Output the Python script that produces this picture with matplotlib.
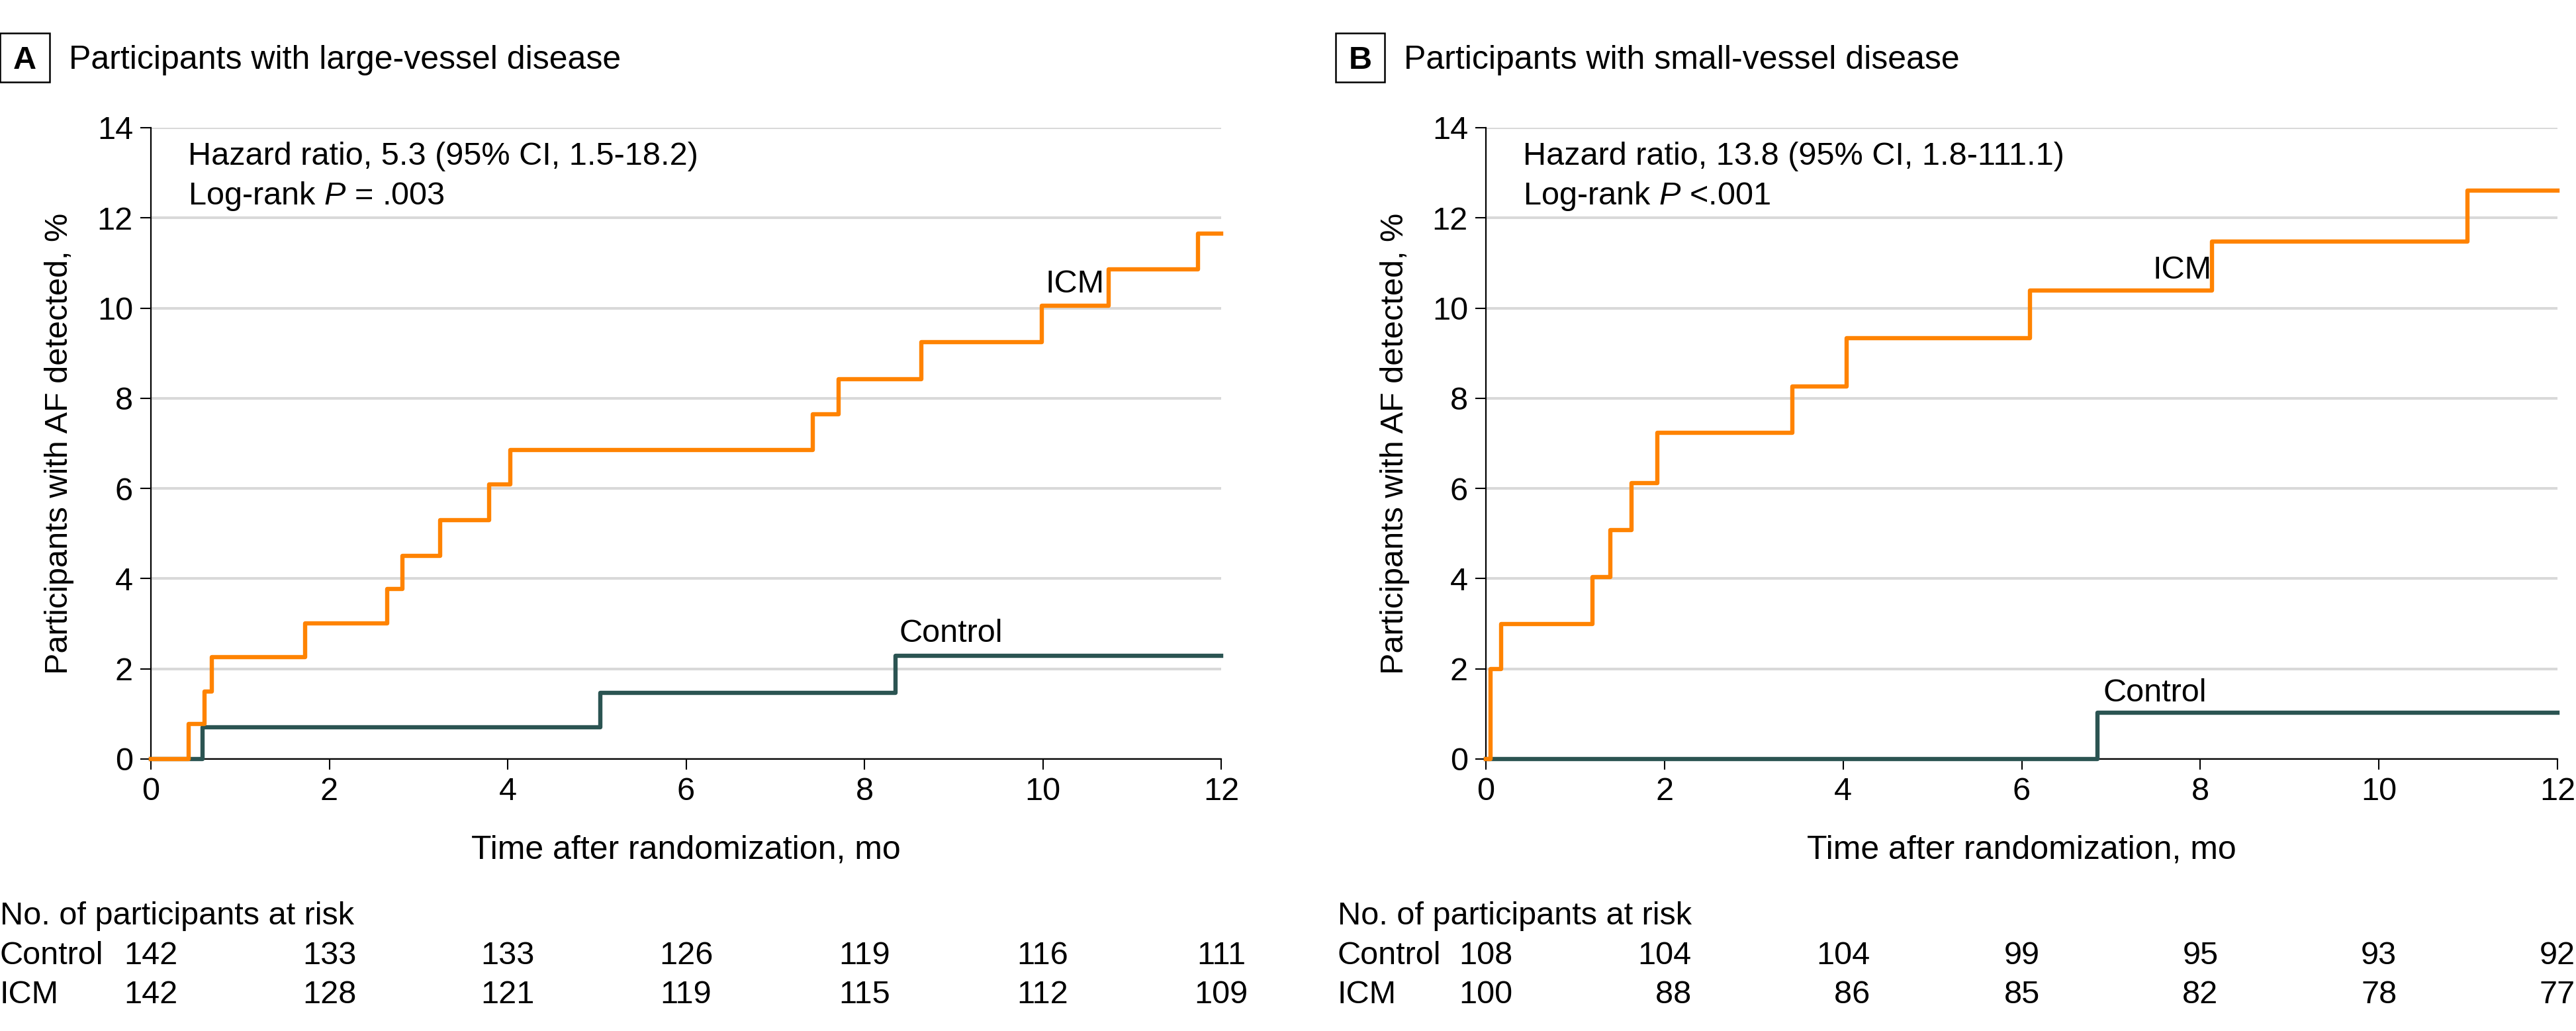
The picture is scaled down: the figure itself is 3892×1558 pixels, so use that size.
import numpy as np
import matplotlib.pyplot as plt
from matplotlib.patches import Rectangle
import matplotlib.transforms as mtransforms

plt.rcParams['font.family'] = ['Liberation Sans', 'DejaVu Sans']
plt.rcParams['mathtext.fontset'] = 'custom'
plt.rcParams['mathtext.rm'] = 'Liberation Sans'
plt.rcParams['mathtext.it'] = 'Liberation Sans:italic'

# time points of the risk table (months)
months = [0, 2, 4, 6, 8, 10, 12]

# panel A: large-vessel disease, cumulative % with AF (step times in months)
a_icm_t = [0, 0.42, 0.60, 0.68, 1.73, 2.65, 2.82, 3.24, 3.79, 4.03, 7.42, 7.71, 8.64, 9.99, 10.74, 11.74]
a_icm_y = [0, 0.78, 1.50, 2.26, 3.01, 3.77, 4.51, 5.30, 6.09, 6.85, 7.65, 8.43, 9.24, 10.05, 10.86, 11.65]
a_ctl_t = [0, 0.58, 5.04, 8.35]
a_ctl_y = [0, 0.70, 1.47, 2.29]
a_risk_ctl = [142, 133, 133, 126, 119, 116, 111]
a_risk_icm = [142, 128, 121, 119, 115, 112, 109]

# panel B: small-vessel disease
b_icm_t = [0, 0.05, 0.17, 1.19, 1.39, 1.63, 1.92, 3.43, 4.04, 6.09, 8.13, 10.99]
b_icm_y = [0, 2.00, 3.00, 4.04, 5.08, 6.12, 7.23, 8.26, 9.34, 10.39, 11.48, 12.61]
b_ctl_t = [0, 6.85]
b_ctl_y = [0, 1.03]
b_risk_ctl = [108, 104, 104, 99, 95, 93, 92]
b_risk_icm = [100, 88, 86, 85, 82, 78, 77]

ORANGE = '#FF8300'
TEAL = '#2B5452'
FS = 35

W, H = 3892, 1558
fig = plt.figure(figsize=(W / 100, H / 100), dpi=100)

def fx(px):
    return px / W

def fy(py):
    return 1 - py / H

top, bot = 193, 1147

panels = [
    dict(left=228, right=1845, letter='A', box=(0, 75), title_x=104,
         title='Participants with large-vessel disease',
         hr='Hazard ratio, 5.3 (95% CI, 1.5-18.2)', p='Log-rank $\\it{P}$ = .003',
         icm=(a_icm_t, a_icm_y), ctl=(a_ctl_t, a_ctl_y),
         icm_lab=(10.03, 10.35), ctl_lab=(8.39, 2.6),
         risk=(a_risk_ctl, a_risk_icm), row_x=0),
    dict(left=2245, right=3864, letter='B', box=(2018, 2092), title_x=2121,
         title='Participants with small-vessel disease',
         hr='Hazard ratio, 13.8 (95% CI, 1.8-111.1)', p='Log-rank $\\it{P}$ <.001',
         icm=(b_icm_t, b_icm_y), ctl=(b_ctl_t, b_ctl_y),
         icm_lab=(7.47, 10.65), ctl_lab=(6.91, 1.27),
         risk=(b_risk_ctl, b_risk_icm), row_x=2021),
]

for pn in panels:
    ax = fig.add_axes([fx(pn['left']), fy(bot), (pn['right'] - pn['left']) / W, (bot - top) / H])
    ax.set_xlim(0, 12)
    ax.set_ylim(0, 14)
    ax.set_xticks(months)
    ax.set_yticks(np.arange(0, 15, 2))
    for s in ['top', 'right']:
        ax.spines[s].set_visible(False)
    for s in ['left', 'bottom']:
        ax.spines[s].set_linewidth(1.6)
    ax.yaxis.grid(True, color='#d9d9d9', lw=2.9)
    ax.set_axisbelow(True)
    ax.tick_params(labelsize=FS, length=11.5, width=1.5, pad=8)

    t, y = pn['ctl']
    ax.step(np.append(t, 12), np.append(y, y[-1]), where='post', color=TEAL, lw=4.6,
            clip_on=False, zorder=3)
    t, y = pn['icm']
    ax.step(np.append(t, 12), np.append(y, y[-1]), where='post', color=ORANGE, lw=4.6,
            clip_on=False, zorder=4)

    ax.text(pn['icm_lab'][0], pn['icm_lab'][1], 'ICM', fontsize=FS, va='baseline')
    ax.text(pn['ctl_lab'][0], pn['ctl_lab'][1], 'Control', fontsize=FS, va='baseline')
    ax.text(0.415, 13.18, pn['hr'], fontsize=FS, va='baseline')
    ax.text(0.415, 12.30, pn['p'], fontsize=FS, va='baseline')

    ax.set_xlabel('Time after randomization, mo', fontsize=FS + 1)
    ax.xaxis.label.set_va('center')
    ax.xaxis.set_label_coords(0.5, (bot - 1284) / (bot - top))
    ax.set_ylabel('Participants with AF detected, %', fontsize=FS)
    ax.yaxis.label.set_va('center')
    ax.yaxis.set_label_coords((90 - 228) / (pn['right'] - pn['left']), 0.5)

    # panel letter box and title
    x0, x1 = pn['box']
    fig.add_artist(Rectangle((fx(x0), fy(124)), (x1 - x0) / W, 74 / H, transform=fig.transFigure,
                             fill=False, lw=1.8, edgecolor='black'))
    fig.text(fx((x0 + x1) / 2), fy(104), pn['letter'], fontsize=FS, fontweight='bold',
             ha='center', va='baseline')
    fig.text(fx(pn['title_x']), fy(104), pn['title'], fontsize=FS + 1, va='baseline')

    # risk table
    tr = mtransforms.blended_transform_factory(ax.transData, fig.transFigure)
    fig.text(fx(pn['row_x']), fy(1397), 'No. of participants at risk', fontsize=FS, va='baseline')
    ctl_v, icm_v = pn['risk']
    for vals, name, yy in zip(pn['risk'], ['Control', 'ICM'], [1457, 1516]):
        fig.text(fx(pn['row_x']), fy(yy), name, fontsize=FS, va='baseline')
        for i, m in enumerate(months):
            w = max(len(str(ctl_v[i])), len(str(icm_v[i])))
            s = str(vals[i]).rjust(w).replace(' ', '\u2007')
            ax.text(m, fy(yy), s, fontsize=FS, ha='center', va='baseline', transform=tr)

fig.savefig('out.png', dpi=100)
